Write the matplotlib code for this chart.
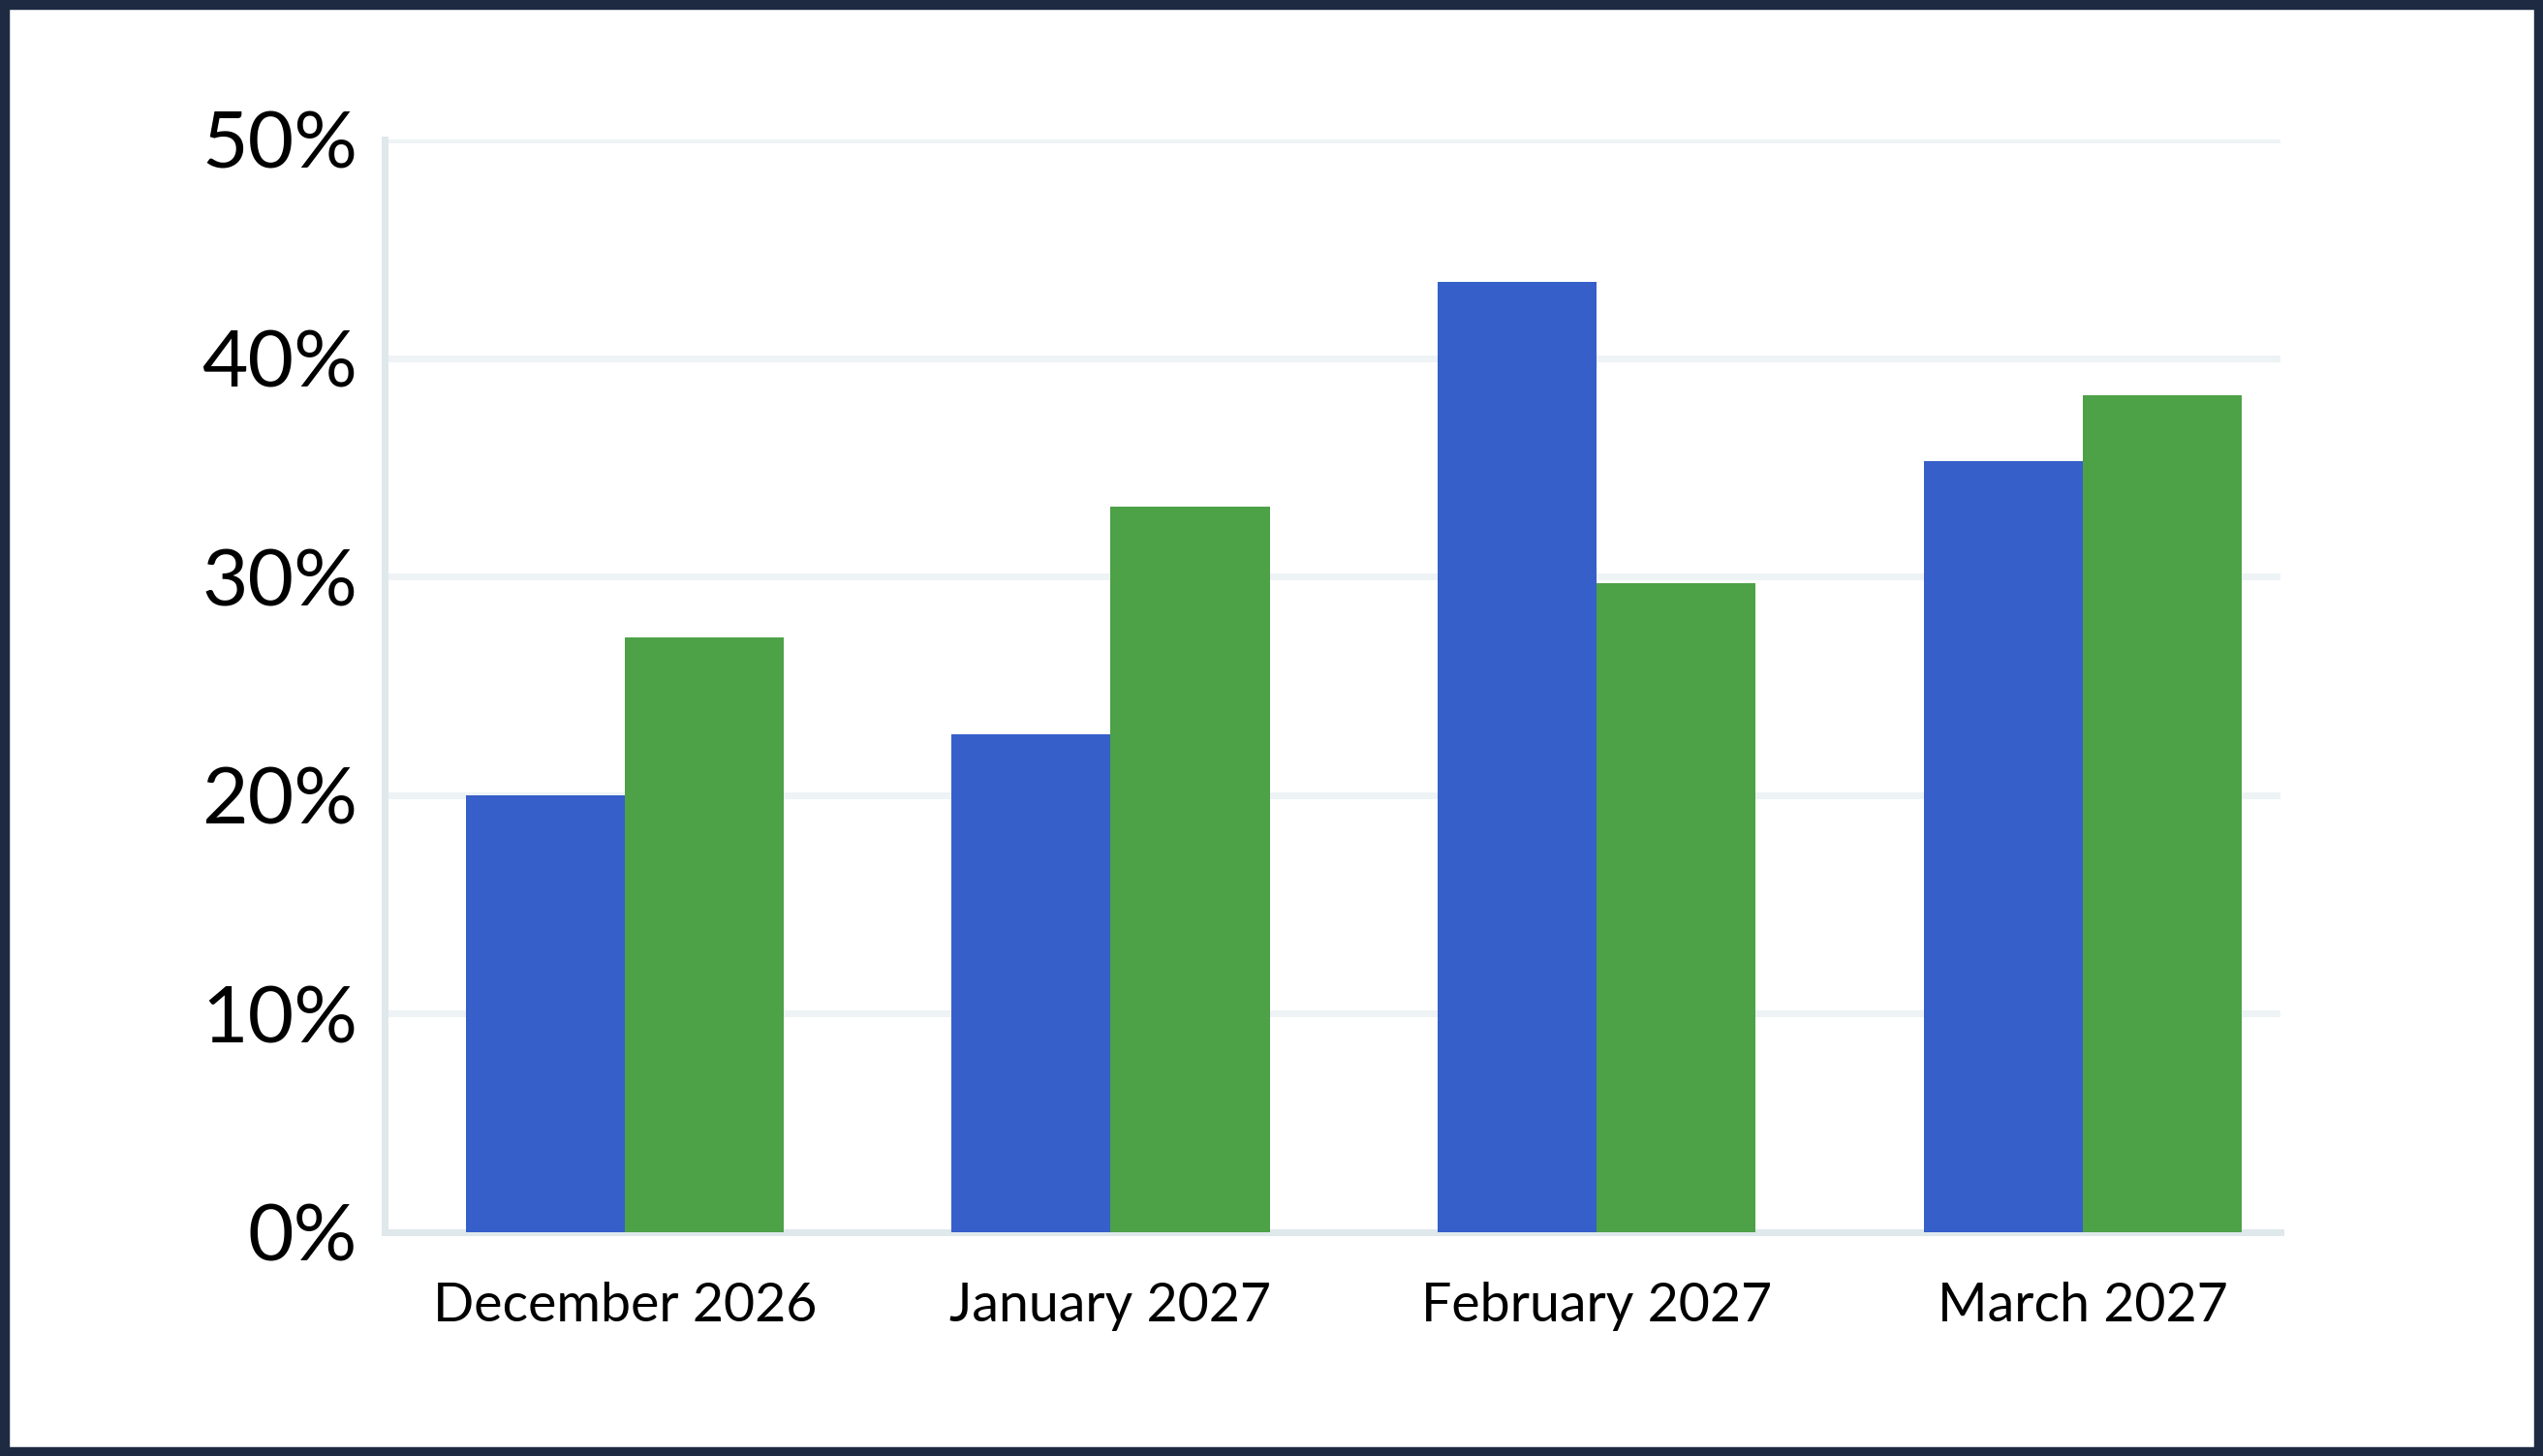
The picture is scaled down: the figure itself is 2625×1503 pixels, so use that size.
import matplotlib
matplotlib.use("Agg")
import matplotlib.pyplot as plt
from matplotlib.patches import Rectangle
import numpy as np

categories = ["December 2026", "January 2027", "February 2027", "March 2027"]
series_blue = [20.0, 22.8, 43.5, 35.3]
series_green = [27.2, 33.2, 29.7, 38.3]
y_ticks = [0, 10, 20, 30, 40, 50]
y_tick_labels = ["0%", "10%", "20%", "30%", "40%", "50%"]

plt.rcParams['font.family'] = ['Lato', 'DejaVu Sans']

fig = plt.figure(figsize=(26.25, 15.03), dpi=100)
fig.patch.set_facecolor("white")
ax = fig.add_axes([0.1512, 0.1537, 0.8968 - 0.1512, 0.9042 - 0.1537])

x = np.arange(len(categories))
w = 0.327
ax.bar(x - w / 2, series_blue, width=w, color="#365fc9", zorder=3)
ax.bar(x + w / 2, series_green, width=w, color="#4da147", zorder=3)

ax.set_xlim(-0.494, 3.407)
ax.set_ylim(0, 50)
ax.set_yticks(y_ticks)
ax.set_yticklabels(y_tick_labels, fontsize=59)
ax.set_xticks(x)
ax.set_xticklabels(categories, fontsize=40)
ax.tick_params(axis='y', length=0, pad=20)
ax.tick_params(axis='x', length=0, pad=37)

for yv in y_ticks[1:]:
    ax.axhline(yv, color="#eef3f5", lw=5, zorder=1)

for s in ["top", "right"]:
    ax.spines[s].set_visible(False)
for s in ["left", "bottom"]:
    ax.spines[s].set_color("#dfe8eb")
    ax.spines[s].set_linewidth(5)
    ax.spines[s].set_zorder(2)

# outer frame
fig.patches.append(Rectangle((0, 0), 1, 1, transform=fig.transFigure,
                             fill=False, edgecolor="#1e2a42", linewidth=14, zorder=10))

fig.savefig("out.png", dpi=100, facecolor="white")
